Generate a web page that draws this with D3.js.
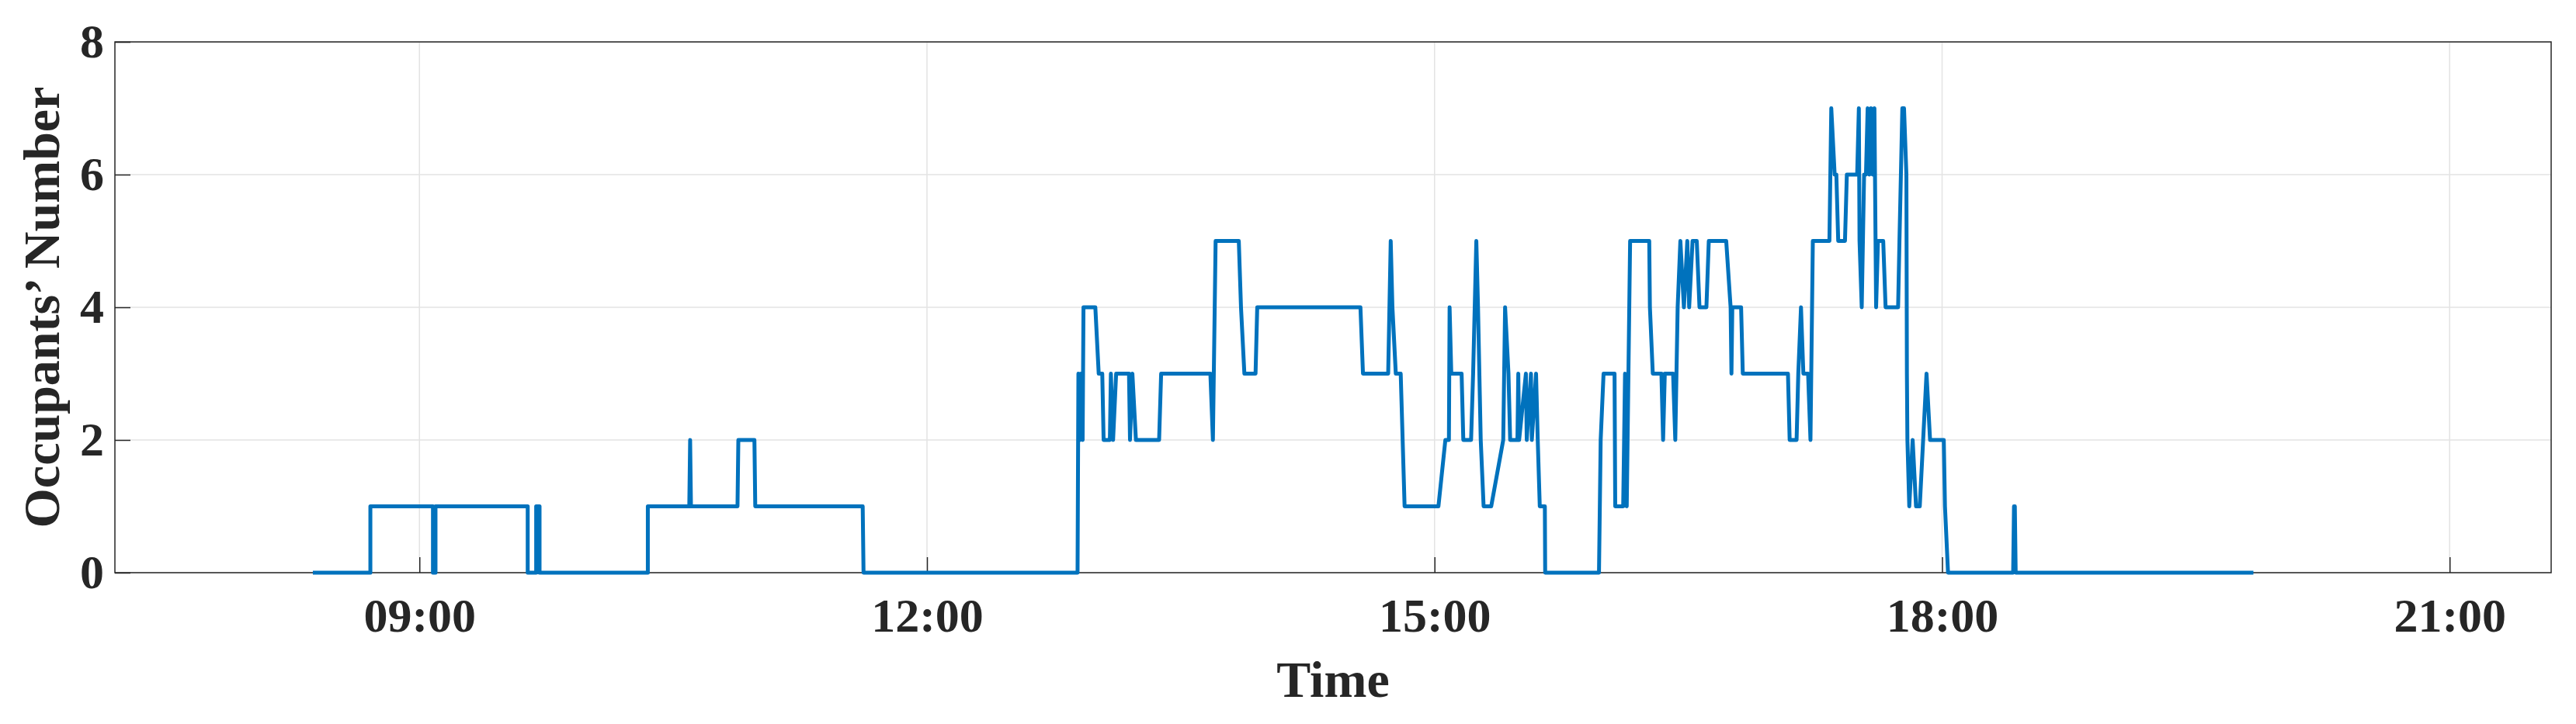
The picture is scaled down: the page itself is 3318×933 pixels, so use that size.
<!DOCTYPE html>
<html>
<head>
<meta charset="utf-8">
<script src="https://cdn.jsdelivr.net/npm/d3@7"></script>
<style>
  body { margin: 0; background: #fff; }
  text { font-family: "Liberation Serif", "Times New Roman", serif; font-weight: bold; fill: #262626; }
</style>
</head>
<body>
<svg width="3318" height="933"></svg>
<script>
// sample times in decimal hours, and occupant counts
const hours = [
  8.37, 8.71, 8.71, 9.08, 9.08, 9.095, 9.095, 9.64, 9.64, 9.69, 9.69, 9.71, 9.71,
  10.35, 10.35, 10.595, 10.60, 10.605, 10.88, 10.885, 10.98, 10.985, 11.62, 11.625,
  12.89, 12.895, 12.905, 12.91, 12.92, 12.925, 12.995, 13.015, 13.036, 13.044, 13.081, 13.087,
  13.10, 13.118, 13.194, 13.20, 13.214, 13.235, 13.372, 13.384, 13.675, 13.69, 13.706,
  13.843, 13.856, 13.876, 13.942, 13.952, 14.562, 14.577, 14.726, 14.741, 14.751, 14.771,
  14.80, 14.823, 15.023, 15.064, 15.085, 15.089, 15.099, 15.16, 15.17, 15.216, 15.228,
  15.247, 15.257, 15.273, 15.29, 15.335, 15.406, 15.417, 15.437, 15.447, 15.49, 15.495,
  15.50, 15.54, 15.545, 15.57, 15.575, 15.60, 15.61, 15.622, 15.652, 15.654,
  15.972, 15.982, 15.999, 16.064, 16.068, 16.115, 16.126, 16.136, 16.146, 16.156,
  16.269, 16.273, 16.29, 16.341, 16.351, 16.361, 16.41, 16.423, 16.437, 16.453, 16.474,
  16.494, 16.505, 16.525, 16.55, 16.566, 16.607, 16.621, 16.724, 16.75, 16.755, 16.76,
  16.812, 16.822, 17.089, 17.099, 17.14, 17.15, 17.166, 17.18, 17.208, 17.222, 17.236,
  17.334, 17.345, 17.365, 17.375, 17.386, 17.426, 17.437, 17.498, 17.508, 17.512, 17.525,
  17.539, 17.55, 17.56, 17.57, 17.58, 17.59, 17.60, 17.61, 17.621, 17.652, 17.666,
  17.74, 17.748, 17.765, 17.775, 17.789, 17.792, 17.795, 17.806, 17.826, 17.846, 17.868,
  17.888, 17.908, 17.929, 18.01, 18.017, 18.035, 18.42, 18.425, 18.43, 18.435, 19.84
];
const counts = [
  0, 0, 1, 1, 0, 0, 1, 1, 0, 0, 1, 1, 0,
  0, 1, 1, 2, 1, 1, 2, 2, 1, 1, 0,
  0, 3, 2, 3, 2, 4, 4, 3, 3, 2, 2, 3,
  2, 3, 3, 2, 3, 2, 2, 3, 3, 2, 5,
  5, 4, 3, 3, 4, 4, 3, 3, 5, 4, 3,
  3, 1, 1, 2, 2, 4, 3, 3, 2, 2, 3,
  5, 4, 2, 1, 1, 2, 4, 3, 2, 2, 3,
  2, 3, 2, 3, 2, 3, 2, 1, 1, 0,
  0, 2, 3, 3, 1, 1, 3, 1, 3, 5,
  5, 4, 3, 3, 2, 3, 3, 2, 4, 5, 4,
  5, 4, 5, 5, 4, 4, 5, 5, 4, 3, 4,
  4, 3, 3, 2, 2, 3, 4, 3, 3, 2, 5,
  5, 7, 6, 6, 5, 5, 6, 6, 7, 5, 4,
  6, 6, 7, 6, 7, 6, 7, 4, 5, 5, 4,
  4, 5, 7, 7, 6, 3, 2, 1, 2, 1, 1,
  2, 3, 2, 2, 1, 0, 0, 1, 1, 0, 0
];
const xTicks = [9, 12, 15, 18, 21];
const yTicks = [0, 2, 4, 6, 8];

const data = hours.map((h, i) => ({ t: h, v: counts[i] }));

const svg = d3.select('svg');
const plotL = 148, plotR = 3286, plotT = 54, plotB = 738;

const x = d3.scaleLinear().domain([7.2, 21.6]).range([plotL, plotR]);
const y = d3.scaleLinear().domain([0, 8]).range([plotB, plotT]);

// grid
svg.append('g').selectAll('line').data(xTicks).enter().append('line')
  .attr('x1', d => x(d)).attr('x2', d => x(d)).attr('y1', plotT).attr('y2', plotB)
  .attr('stroke', '#e3e3e3').attr('stroke-width', 1.5);
svg.append('g').selectAll('line').data(yTicks).enter().append('line')
  .attr('x1', plotL).attr('x2', plotR).attr('y1', d => y(d)).attr('y2', d => y(d))
  .attr('stroke', '#e3e3e3').attr('stroke-width', 1.5);

// frame
svg.append('rect').attr('x', plotL).attr('y', plotT)
  .attr('width', plotR - plotL).attr('height', plotB - plotT)
  .attr('fill', 'none').attr('stroke', '#262626').attr('stroke-width', 1.5);

const fmt = d => String(d).padStart(2, '0') + ':00';

const xAxis = d3.axisBottom(x).tickValues(xTicks).tickFormat(fmt).tickSizeInner(-20).tickSizeOuter(0).tickPadding(32);
svg.append('g').attr('transform', 'translate(0,' + plotB + ')').call(xAxis)
  .call(g => g.select('.domain').remove())
  .call(g => g.selectAll('line').attr('stroke', '#262626').attr('stroke-width', 1.5))
  .call(g => g.selectAll('text').style('font-size', '62px').attr('fill', '#262626'));

const yAxis = d3.axisLeft(y).tickValues(yTicks).tickSizeInner(-20).tickSizeOuter(0).tickPadding(14);
svg.append('g').attr('transform', 'translate(' + plotL + ',0)').call(yAxis)
  .call(g => g.select('.domain').remove())
  .call(g => g.selectAll('line').attr('stroke', '#262626').attr('stroke-width', 1.5))
  .call(g => g.selectAll('text').style('font-size', '62px').attr('fill', '#262626'));

// data line
const line = d3.line().x(d => x(d.t)).y(d => y(d.v));
svg.append('path').datum(data).attr('d', line)
  .attr('fill', 'none').attr('stroke', '#0072BD').attr('stroke-width', 5)
  .attr('stroke-linejoin', 'round');

// axis titles
svg.append('text').attr('x', (plotL + plotR) / 2).attr('y', 898)
  .attr('text-anchor', 'middle').style('font-size', '66px').text('Time');
svg.append('text').attr('transform', 'translate(76,' + (plotT + plotB) / 2 + ') rotate(-90)')
  .attr('text-anchor', 'middle').style('font-size', '66px').text('Occupants\u2019 Number');
</script>
</body>
</html>
